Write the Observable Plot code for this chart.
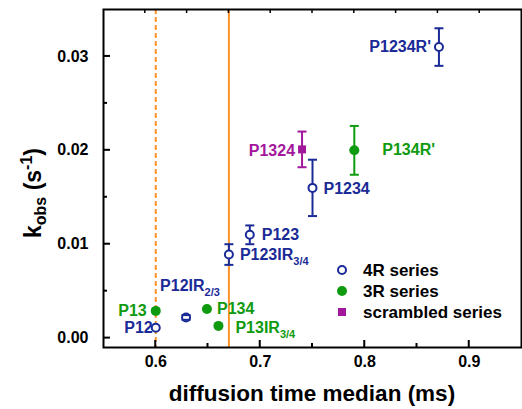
<!DOCTYPE html>
<html><head><meta charset="utf-8">
<script src="https://cdn.jsdelivr.net/npm/d3@7"></script>
<script src="https://cdn.jsdelivr.net/npm/@observablehq/plot@0.6"></script>
<style>body{margin:0;background:#fff} #chart{position:relative;width:522px;height:409px}</style>
</head><body><div id="chart"></div>
<script>
// ---- data ----
const names4R = ["P12", "P12IR", "P123IR", "P123", "P1234", "P1234R'"];
const subs4R  = ["", "2/3", "3/4", "", "", ""];
const x4R     = [0.600, 0.629, 0.670, 0.690, 0.750, 0.871];
const k4R     = [0.0011, 0.0022, 0.0089, 0.0110, 0.0160, 0.0310];
const err4R   = [0, 0.00025, 0.0011, 0.0010, 0.0030, 0.0020];

const names3R = ["P13", "P134", "P13IR", "P134R'"];
const subs3R  = ["", "", "3/4", ""];
const x3R     = [0.600, 0.649, 0.660, 0.790];
const k3R     = [0.0029, 0.0031, 0.0013, 0.0200];
const err3R   = [0, 0, 0, 0.0026];

const namesScr = ["P1324"];
const subsScr  = [""];
const xScr     = [0.740];
const kScr     = [0.0201];
const errScr   = [0.0019];

const seriesNames = ["4R series", "3R series", "scrambled series"];
const refDashed = [0.600];
const refSolid  = [0.670];
const xDomain = [0.55, 0.95];
const yDomain = [-0.001, 0.035];
const xMajor = [0.6, 0.7, 0.8, 0.9];
const xMinor = [0.65, 0.75, 0.85];
const xTop   = [0.59, 0.63, 0.67, 0.71, 0.75, 0.79, 0.83, 0.87, 0.91];
const yMajor = [0, 0.01, 0.02, 0.03];
const yMinor = [0.005, 0.015, 0.025];

// ---- styles / layout ----
const FONT = "'Liberation Sans', Arial, Helvetica, sans-serif";
const BLUE = "#1a2a96", GREEN = "#0f9a0f", MAG = "#a3179c", ORANGE = "#ff9326";
const W = 522, H = 409, ML = 103, MR = 1, MT = 9, MB = 62;
const PW = W - ML - MR, PH = H - MT - MB;
const labelPlace = {
  "P12": ["end", -3, 0],
  "P12IR": ["start", -26, -32],
  "P123IR": ["start", 11, 0],
  "P123": ["start", 12, 0],
  "P1234": ["start", 11, 1],
  "P1234R'": ["end", -8, 0],
  "P13": ["end", -9, 0],
  "P134": ["start", 10, 0],
  "P13IR": ["start", 17, 2],
  "P134R'": ["start", 28, 0],
  "P1324": ["end", -7, 1]
};

function rows(names, subs, xs, ks, errs, color) {
  return names.map((n, i) => ({name: n, sub: subs[i], x: xs[i], k: ks[i], err: errs[i], color}));
}
const rows4R = rows(names4R, subs4R, x4R, k4R, err4R, BLUE);
const rows3R = rows(names3R, subs3R, x3R, k3R, err3R, GREEN);
const rowsScr = rows(namesScr, subsScr, xScr, kScr, errScr, MAG);
const allRows = [...rows4R, ...rows3R, ...rowsScr];

const capSymbol = {draw(ctx, size) { const w = Math.sqrt(size / Math.PI); ctx.moveTo(-w, 0); ctx.lineTo(w, 0); }};

const marks = [
  Plot.ruleX(refDashed, {x: d => d, stroke: ORANGE, strokeWidth: 2, strokeDasharray: "5,3"}),
  Plot.ruleX(refSolid, {x: d => d, stroke: ORANGE, strokeWidth: 2})
];
for (const [rs, c] of [[rows4R, BLUE], [rows3R, GREEN], [rowsScr, MAG]]) {
  const e = rs.filter(d => d.err > 0);
  marks.push(Plot.ruleX(e, {x: "x", y1: d => d.k - d.err, y2: d => d.k + d.err, stroke: c, strokeWidth: 2}));
}
marks.push(
  Plot.dot(rows4R, {x: "x", y: "k", r: 4, fill: "white", stroke: BLUE, strokeWidth: 2}),
  Plot.dot(rows3R, {x: "x", y: "k", r: 5, fill: GREEN}),
  Plot.dot(rowsScr, {x: "x", y: "k", r: 4.5, symbol: "square", fill: MAG})
);
for (const [rs, c] of [[rows4R, BLUE], [rows3R, GREEN], [rowsScr, MAG]]) {
  const e = rs.filter(d => d.err > 0);
  marks.push(Plot.dot(e, {x: "x", y: d => d.k + d.err, symbol: capSymbol, r: 4.5, stroke: c, strokeWidth: 2}));
  marks.push(Plot.dot(e, {x: "x", y: d => d.k - d.err, symbol: capSymbol, r: 4.5, stroke: c, strokeWidth: 2}));
}
marks.push(
  Plot.axisY(yMajor, {tickSize: 0, tickPadding: 15, tickFormat: d3.format(".2f"), label: null}),
  Plot.axisX(xMajor, {tickSize: 0, tickPadding: 8, tickFormat: d => d.toFixed(1), label: null}),
  Plot.frame({stroke: "black", strokeWidth: 2})
);
for (const r of allRows) {
  const [anchor, dx, dy] = labelPlace[r.name];
  marks.push(Plot.text([r], {x: "x", y: "k", text: "name", textAnchor: anchor, dx, dy, fill: r.color}));
}

const chart = Plot.plot({
  width: W, height: H,
  marginLeft: ML, marginRight: MR, marginTop: MT, marginBottom: MB,
  x: {domain: xDomain, axis: null},
  y: {domain: yDomain, axis: null},
  style: {fontFamily: FONT, fontSize: "16px", fontWeight: "bold", color: "black", background: "white", overflow: "visible"},
  marks
});
document.getElementById("chart").appendChild(chart);

const svg = d3.select(chart);
// use Plot's own scales; fall back to an equivalent linear map if apply is unavailable
let X, Y;
try {
  const sx = chart.scale("x"), sy = chart.scale("y");
  if (sx && typeof sx.apply === "function" && isFinite(sx.apply(0.7))) { X = v => sx.apply(v); Y = v => sy.apply(v); }
} catch (e) {}
if (!X) {
  const lx = d3.scaleLinear(xDomain, [ML, W - MR]), ly = d3.scaleLinear(yDomain, [H - MB, MT]);
  X = lx; Y = ly;
}

// inward ticks
const tg = svg.append("g").attr("stroke", "black").attr("stroke-width", 2).attr("fill", "none");
const frameLeft = ML, frameBottom = H - MB, frameTop = MT;
const seg = (x1, y1, x2, y2, sw) => {
  const p = tg.append("path").attr("d", `M${x1},${y1}L${x2},${y2}`);
  if (sw) p.attr("stroke-width", sw);
};
yMajor.forEach(v => seg(frameLeft, Y(v), frameLeft + 7, Y(v)));
yMinor.forEach(v => seg(frameLeft, Y(v), frameLeft + 4, Y(v)));
xMajor.forEach(v => seg(X(v), frameBottom, X(v), frameBottom - 7));
xMinor.forEach(v => seg(X(v), frameBottom, X(v), frameBottom - 4));
xTop.forEach(v => seg(X(v), frameTop, X(v), frameTop + 4, 1.5));

// subscripts on labels
const labelGroups = chart.querySelectorAll('g[aria-label="text"]');
allRows.forEach((r, i) => {
  if (!r.sub) return;
  const t = labelGroups[i] && labelGroups[i].querySelector("text");
  if (!t) return;
  d3.select(t).append("tspan").attr("dy", 5).attr("font-size", 11).text(r.sub);
});

// axis titles
svg.append("text").attr("x", ML + PW / 2).attr("y", 401).attr("text-anchor", "middle")
  .attr("font-size", 22.5).attr("font-weight", "bold").attr("fill", "black")
  .text("diffusion time median (ms)");
const yt = svg.append("text").attr("transform", "translate(41,193) rotate(-90)")
  .attr("text-anchor", "middle").attr("font-size", 23).attr("font-weight", "bold").attr("fill", "black");
yt.append("tspan").text("k");
yt.append("tspan").attr("font-size", 16).attr("dy", 5).text("obs");
yt.append("tspan").attr("dy", -5).text(" (s");
yt.append("tspan").attr("font-size", 16).attr("dy", -9).text("-1");
yt.append("tspan").attr("dy", 9).text(")");

// legend
const lg = svg.append("g").attr("font-size", 17).attr("font-weight", "bold").attr("text-anchor", "start");
const legY = [270, 291, 312];
lg.append("circle").attr("cx", 342).attr("cy", legY[0]).attr("r", 4).attr("fill", "white").attr("stroke", BLUE).attr("stroke-width", 2);
lg.append("circle").attr("cx", 342).attr("cy", legY[1]).attr("r", 5).attr("fill", GREEN);
lg.append("rect").attr("x", 338).attr("y", legY[2] - 4).attr("width", 8).attr("height", 8).attr("fill", MAG);
seriesNames.forEach((s, i) => {
  lg.append("text").attr("x", 363).attr("y", legY[i] + 6).attr("fill", "black").attr("text-anchor", "start").text(s);
});
</script>
</body></html>
